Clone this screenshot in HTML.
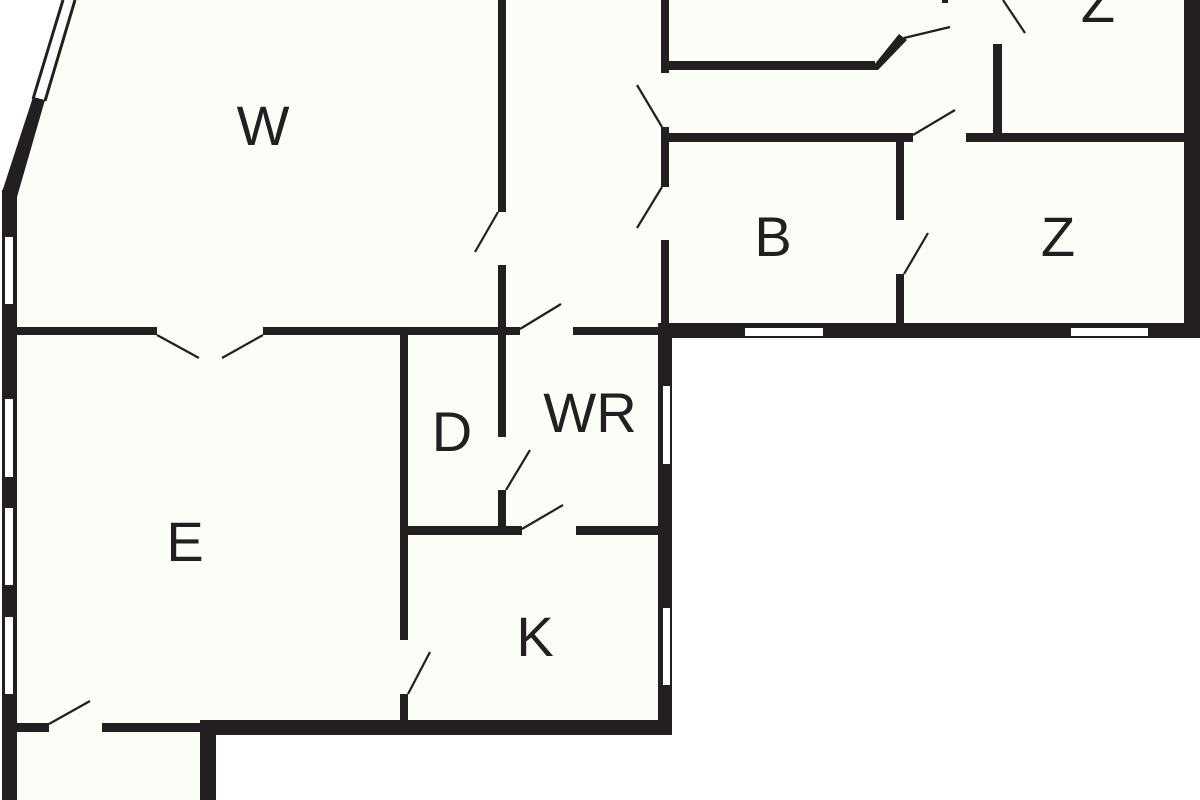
<!DOCTYPE html>
<html><head><meta charset="utf-8"><style>
html,body{margin:0;padding:0;background:#fff;}
svg{display:block}
text{font-family:"Liberation Sans",sans-serif;fill:#231f20;font-size:56px;text-anchor:middle}
</style></head><body>
<svg width="1200" height="800" viewBox="0 0 1200 800" xmlns="http://www.w3.org/2000/svg">
<!-- floor fill -->
<polygon points="8,190 40,100 70,0 1192,0 1192,330 665,330 665,727 208,727 208,800 8,800" fill="#fdfdf8"/>
<g fill="#231f20">
<!-- left outer wall -->
<rect x="2" y="190" width="15" height="610"/>
<polygon points="2,192 33,97 45,100 17,197"/>
<!-- diagonal window double lines -->
<line x1="33" y1="99" x2="63" y2="0" stroke="#231f20" stroke-width="3"/>
<line x1="45" y1="101" x2="75" y2="0" stroke="#231f20" stroke-width="3"/>
<!-- right outer wall -->
<rect x="1184" y="0" width="16" height="338"/>
<!-- bottom wall of right block -->
<rect x="658" y="323" width="542" height="15"/>
<!-- K/WR outer wall -->
<rect x="658" y="323" width="14" height="412"/>
<!-- bottom wall -->
<rect x="200" y="720" width="472" height="15"/>
<rect x="200" y="720" width="16" height="80"/>
<rect x="16" y="723" width="33" height="9"/>
<rect x="102" y="723" width="100" height="9"/>
<!-- W/E wall -->
<rect x="16" y="327" width="141" height="8"/>
<rect x="263" y="327" width="257" height="8"/>
<rect x="573" y="327" width="92" height="8"/>
<!-- vertical x=500 -->
<rect x="498" y="0" width="8" height="212"/>
<rect x="498" y="265" width="8" height="172"/>
<rect x="498" y="490" width="8" height="42"/>
<!-- vertical x=664 -->
<rect x="661" y="0" width="8" height="73"/>
<rect x="661" y="127" width="8" height="60"/>
<rect x="661" y="240" width="8" height="90"/>
<!-- top horizontal walls -->
<rect x="664" y="61" width="211" height="9"/>
<polygon points="870,70 899,34 907,40 878,70"/>
<rect x="942" y="0" width="6" height="3"/>
<rect x="664" y="133" width="249" height="9"/>
<rect x="966" y="133" width="220" height="9"/>
<rect x="993" y="44" width="9" height="92"/>
<!-- vertical x=900 -->
<rect x="896" y="138" width="8" height="82"/>
<rect x="896" y="274" width="8" height="52"/>
<!-- D/K wall -->
<rect x="400" y="332" width="8" height="308"/>
<rect x="400" y="694" width="8" height="30"/>
<rect x="405" y="526" width="117" height="9"/>
<rect x="576" y="526" width="86" height="9"/>
</g>
<!-- windows -->
<g fill="#fff">
<rect x="5" y="237" width="8" height="67"/>
<rect x="5" y="399" width="8" height="78"/>
<rect x="5" y="508" width="8" height="77"/>
<rect x="5" y="617" width="8" height="77"/>
<rect x="745" y="328" width="78" height="8"/>
<rect x="1071" y="328" width="77" height="8"/>
<rect x="663" y="386" width="7" height="78"/>
<rect x="663" y="608" width="7" height="77"/>
</g>
<!-- door swings -->
<g stroke="#231f20" stroke-width="2.2" fill="none">
<line x1="157" y1="335" x2="199" y2="358"/>
<line x1="263" y1="335" x2="222" y2="358"/>
<line x1="498" y1="212" x2="475" y2="252"/>
<line x1="520" y1="329" x2="561" y2="304"/>
<line x1="662" y1="127" x2="637" y2="85"/>
<line x1="662" y1="187" x2="637" y2="228"/>
<line x1="506" y1="490" x2="530" y2="450"/>
<line x1="522" y1="529" x2="563" y2="505"/>
<line x1="408" y1="694" x2="430" y2="652"/>
<line x1="49" y1="724" x2="90" y2="701"/>
<line x1="904" y1="38" x2="950" y2="27"/>
<line x1="1003" y1="0" x2="1025" y2="33"/>
<line x1="913" y1="135" x2="955" y2="110"/>
<line x1="904" y1="274" x2="928" y2="233"/>
</g>
<text x="263" y="145">W</text>
<text x="773" y="256">B</text>
<text x="1058" y="256">Z</text>
<text x="1098" y="22">Z</text>
<text x="452" y="451">D</text>
<text x="590" y="432">WR</text>
<text x="185" y="561">E</text>
<text x="535" y="656">K</text>
</svg>
</body></html>
